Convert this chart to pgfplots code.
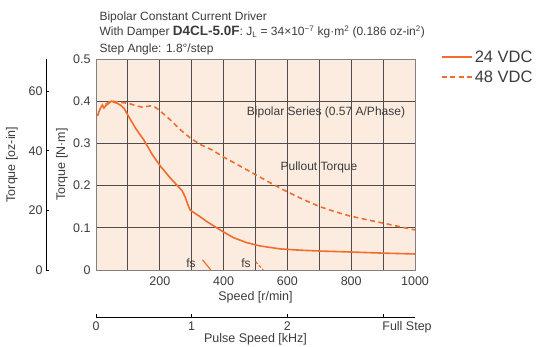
\documentclass[border=0pt]{standalone}
\usepackage{pgfplots}
\pgfplotsset{compat=1.18}
\usepackage{fontspec}
\setmainfont{Liberation Sans}
\definecolor{peach}{RGB}{252,235,223}
\definecolor{curve}{RGB}{242,108,46}
\definecolor{gridc}{RGB}{80,76,76}
\definecolor{txt}{RGB}{60,60,60}

\begin{document}
\begin{tikzpicture}[font=\fontsize{12}{14}\selectfont]
% main torque axis
\begin{axis}[
  at={(0pt,0pt)}, anchor=south west,
  scale only axis, width=319pt, height=211pt,
  xmin=0, xmax=1000, ymin=0, ymax=0.5,
  xtick={0,100,...,1000},
  xticklabels={,,200,,400,,600,,800,,1000},
  ytick={0,0.1,0.2,0.3,0.4,0.5},
  yticklabels={0,0.1,0.2,0.3,0.4,0.5},
  major tick length=0pt,
  grid=major,
  major grid style={gridc, line width=0.9pt},
  axis background/.style={fill=peach},
  axis line style={gray, line width=0.6pt},
  tick label style={font=\fontsize{12.5}{14}\selectfont, text=txt},
  xticklabel style={yshift=-3pt},
  yticklabel style={xshift=-2pt},
  xlabel={Speed [r/min]},
  xlabel style={at={(axis description cs:0.5,-0.128)}, anchor=center, font=\fontsize{12.5}{14}\selectfont, text=txt},
  ylabel={Torque [N·m]},
  ylabel style={at={(axis description cs:-0.107,0.5)}, anchor=center, font=\fontsize{12.5}{14}\selectfont, text=txt},
  legend style={at={(axis description cs:1.072,1.06)}, anchor=north west,
    draw=none, fill=none, font=\fontsize{16.5}{18}\selectfont, row sep=3pt, text=txt},
  legend cell align=left,
  legend image code/.code={\draw[#1, line width=1.6pt] (0pt,0pt) -- (30pt,0pt);},
  clip=false,
]
\addplot[curve, line width=1.6pt] coordinates {
  (5,0.365)(9,0.375)(15,0.385)(20,0.391)(25,0.384)(30,0.389)(40,0.395)
  (48,0.400)(58,0.397)(67,0.395)(78,0.390)(88,0.383)(103,0.363)(124,0.336)
  (150,0.308)(177,0.273)(203,0.245)(234,0.217)(260,0.196)(270,0.188)
  (279,0.174)(288,0.155)(295,0.142)(305,0.137)(325,0.127)(347,0.115)
  (389,0.095)(430,0.077)(472,0.065)(514,0.057)(577,0.050)(639,0.047)
  (700,0.045)(786,0.043)(900,0.040)(1000,0.038)
};
\addlegendentry{24 VDC}
\addplot[curve, line width=1.6pt, dash pattern=on 5pt off 3.5pt] coordinates {
  (30,0.392)(40,0.398)(48,0.401)(60,0.399)(77,0.397)(103,0.395)(125,0.389)
  (145,0.386)(171,0.389)(185,0.386)(198,0.379)(234,0.355)(265,0.332)
  (297,0.312)(328,0.297)(365,0.284)(399,0.268)(450,0.247)(493,0.229)
  (545,0.207)(598,0.186)(650,0.167)(702,0.150)(750,0.138)(796,0.128)
  (850,0.119)(901,0.111)(950,0.103)(1000,0.095)
};
\addlegendentry{48 VDC}
% starting frequency marks
\addplot[curve, line width=1.2pt, forget plot] coordinates {(334,0.024)(360,0)};
\addplot[curve, line width=1.2pt, dash pattern=on 3pt off 2pt, forget plot] coordinates {(500,0.020)(524,0)};
\node[txt] at (axis cs:298,0.015) {fs};
\node[txt] at (axis cs:470,0.015) {fs};
\node[txt] at (axis cs:721,0.374) {Bipolar Series (0.57 A/Phase)};
\node[txt] at (axis cs:699,0.244) {Pullout Torque};
\end{axis}
% oz-in axis
\begin{axis}[
  at={(-50pt,0pt)}, anchor=south west,
  scale only axis, width=5pt, height=211pt,
  xmin=0, xmax=1, ymin=0, ymax=70.8,
  axis x line=none, axis y line=left,
  axis line style={-, black, line width=0.6pt},
  ytick={0,20,40,60},
  tick align=inside, major tick length=3pt,
  tick style={black, line width=0.6pt},
  /pgf/number format/assume math mode=true,
  tick label style={font=\fontsize{12.5}{14}\selectfont, text=txt},
  ylabel={Torque [oz-in]},
  ylabel style={at={(axis description cs:-6.8,0.5)}, anchor=center, font=\fontsize{12.5}{14}\selectfont, text=txt},
]
\end{axis}
% pulse speed axis
\begin{axis}[
  at={(0pt,-47pt)}, anchor=south west,
  scale only axis, width=319pt, height=5pt,
  xmin=0, xmax=3.3333, ymin=0, ymax=1,
  axis y line=none, axis x line=bottom,
  axis line style={-, black, line width=0.6pt},
  xtick={0,1,2,3}, xticklabels={0,1,2,},
  tick align=inside, major tick length=3pt,
  tick style={black, line width=0.6pt},
  tick label style={font=\fontsize{12.5}{14}\selectfont, text=txt},
  xticklabel style={yshift=-1pt},
  xlabel={Pulse Speed [kHz]},
  xlabel style={at={(axis description cs:0.5,-4.55)}, anchor=center, font=\fontsize{12.5}{14}\selectfont, text=txt},
  clip=false,
]
\node[font=\fontsize{12.5}{14}\selectfont, text=txt, anchor=base] at (axis cs:3.25,-2.6) {Full Step};
\end{axis}
% header
\node[anchor=base west, text=txt] at (0pt,249pt) {Bipolar Constant Current Driver};
\node[anchor=base west, text=txt] at (0pt,234pt) {With Damper {\fontsize{13.5}{14}\selectfont\bfseries D4CL-5.0F}: J\textsubscript{L} = 34×10\textsuperscript{−7} kg·m\textsuperscript{2} (0.186 oz-in\textsuperscript{2})};
\node[anchor=base west, text=txt] at (0pt,218pt) {Step Angle: 1.8°/step};
\pgfresetboundingbox
\path[use as bounding box] (-96pt,-76pt) rectangle (444pt,270pt);
\end{tikzpicture}
\end{document}
